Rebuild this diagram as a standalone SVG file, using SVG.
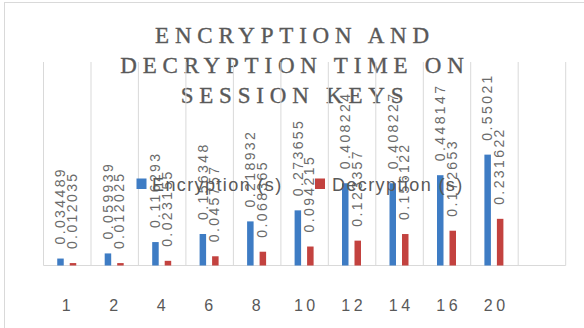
<svg xmlns="http://www.w3.org/2000/svg" width="584" height="328" viewBox="0 0 584 328">
<style>
.title{font-family:"Liberation Serif",serif;font-size:23px;fill:#595959;stroke:#595959;stroke-width:0.35px;letter-spacing:5.8px;text-anchor:middle}
.grid{stroke:#D9D9D9;stroke-width:1;fill:none}
.enc{fill:#3E7CC4}
.dec{fill:#C3423F}
.val{font-family:"Liberation Sans",sans-serif;font-size:14px;fill:#6B6B6B;letter-spacing:2.4px}
.cat{font-family:"Liberation Sans",sans-serif;font-size:16px;fill:#595959;letter-spacing:3.5px;text-anchor:middle}
.leg{font-family:"Liberation Sans",sans-serif;font-size:18px;fill:#595959;letter-spacing:1.4px}
</style>
<rect x="0" y="0" width="584" height="328" fill="#FFFFFF"/>
<rect x="4.5" y="2.5" width="640" height="400" fill="#FFFFFF" stroke="#D9D9D9" stroke-width="1"/>
<g id="title">
<text class="title" x="295" y="43.3">ENCRYPTION AND</text>
<text class="title" x="295" y="73.3">DECRYPTION TIME ON</text>
<text class="title" x="295" y="103.3">SESSION KEYS</text>
</g>
<g id="gridlines">
<path class="grid" d="M43.5 62V265.5M91 62V265.5M138.4 62V265.5M185.9 62V265.5M233.4 62V265.5M280.9 62V265.5M328.3 62V265.5M375.8 62V265.5M423.3 62V265.5M470.7 62V265.5M518.2 62V265.5M565.7 62V265.5M43.5 265.5H565.7"/>
</g>
<g id="bars-encryption">
<rect class="enc" x="57.24" y="258.55" width="6.5" height="6.95"/>
<rect class="enc" x="104.7" y="253.42" width="6.5" height="12.08"/>
<rect class="enc" x="152.2" y="242.07" width="6.5" height="23.43"/>
<rect class="enc" x="199.6" y="234" width="6.5" height="31.5"/>
<rect class="enc" x="247.1" y="221.39" width="6.5" height="44.11"/>
<rect class="enc" x="294.6" y="210.36" width="6.5" height="55.14"/>
<rect class="enc" x="342" y="183.24" width="6.5" height="82.26"/>
<rect class="enc" x="389.5" y="183.24" width="6.5" height="82.26"/>
<rect class="enc" x="437" y="175.2" width="6.5" height="90.3"/>
<rect class="enc" x="484.4" y="154.63" width="6.5" height="110.87"/>
</g>
<g id="bars-decryption">
<rect class="dec" x="69.74" y="263.07" width="6.5" height="2.43"/>
<rect class="dec" x="117.2" y="263.08" width="6.5" height="2.42"/>
<rect class="dec" x="164.7" y="260.83" width="6.5" height="4.67"/>
<rect class="dec" x="212.1" y="256.28" width="6.5" height="9.22"/>
<rect class="dec" x="259.6" y="251.72" width="6.5" height="13.78"/>
<rect class="dec" x="307.1" y="246.52" width="6.5" height="18.98"/>
<rect class="dec" x="354.5" y="240.64" width="6.5" height="24.86"/>
<rect class="dec" x="402" y="234.04" width="6.5" height="31.46"/>
<rect class="dec" x="449.5" y="230.71" width="6.5" height="34.79"/>
<rect class="dec" x="496.9" y="218.83" width="6.5" height="46.67"/>
</g>
<g id="labels-encryption">
<text class="val" transform="translate(65.24,244.55) rotate(-90)">0.034489</text>
<text class="val" transform="translate(112.7,239.42) rotate(-90)">0.059939</text>
<text class="val" transform="translate(160.2,228.07) rotate(-90)">0.116293</text>
<text class="val" transform="translate(207.6,220) rotate(-90)">0.156348</text>
<text class="val" transform="translate(255.1,207.39) rotate(-90)">0.218932</text>
<text class="val" transform="translate(302.6,196.36) rotate(-90)">0.273655</text>
<text class="val" transform="translate(350,169.24) rotate(-90)">0.408224</text>
<text class="val" transform="translate(397.5,169.24) rotate(-90)">0.408227</text>
<text class="val" transform="translate(445,161.2) rotate(-90)">0.448147</text>
<text class="val" transform="translate(492.4,140.63) rotate(-90)">0.55021</text>
</g>
<g id="labels-decryption">
<text class="val" transform="translate(76.74,249.07) rotate(-90)">0.012035</text>
<text class="val" transform="translate(124.2,249.08) rotate(-90)">0.012025</text>
<text class="val" transform="translate(171.7,246.83) rotate(-90)">0.023155</text>
<text class="val" transform="translate(219.1,242.28) rotate(-90)">0.045757</text>
<text class="val" transform="translate(266.6,237.72) rotate(-90)">0.068365</text>
<text class="val" transform="translate(314.1,232.52) rotate(-90)">0.094215</text>
<text class="val" transform="translate(361.5,226.64) rotate(-90)">0.123357</text>
<text class="val" transform="translate(409,220.04) rotate(-90)">0.156122</text>
<text class="val" transform="translate(456.5,216.71) rotate(-90)">0.172653</text>
<text class="val" transform="translate(503.9,204.83) rotate(-90)">0.231622</text>
</g>
<g id="category-axis">
<text class="cat" x="68" y="310.5">1</text>
<text class="cat" x="115.45" y="310.5">2</text>
<text class="cat" x="162.95" y="310.5">4</text>
<text class="cat" x="210.35" y="310.5">6</text>
<text class="cat" x="257.85" y="310.5">8</text>
<text class="cat" x="306.35" y="310.5">10</text>
<text class="cat" x="353.75" y="310.5">12</text>
<text class="cat" x="401.25" y="310.5">14</text>
<text class="cat" x="448.75" y="310.5">16</text>
<text class="cat" x="496.15" y="310.5">20</text>
</g>
<g id="legend">
<rect class="enc" x="136.5" y="178.5" width="10" height="10.5"/>
<text class="leg" x="152" y="190.5">Encryption (s)</text>
<rect class="dec" x="315" y="178.5" width="10" height="10.5"/>
<text class="leg" x="332" y="190.5">Decryption (s)</text>
</g>
</svg>
